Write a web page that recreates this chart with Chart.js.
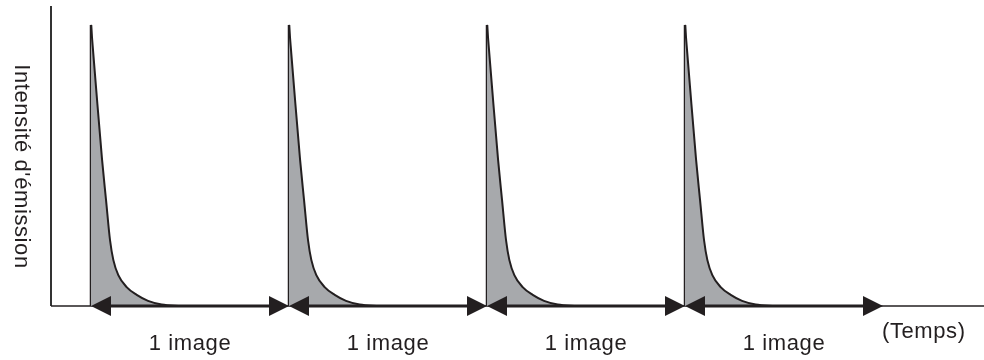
<!DOCTYPE html>
<html>
<head>
<meta charset="utf-8">
<script src="https://cdn.jsdelivr.net/npm/chart.js@4/dist/chart.umd.min.js"></script>
<style>
  html, body { margin: 0; padding: 0; background: #ffffff; }
  #wrap { width: 984px; height: 360px; position: relative; }
</style>
</head>
<body>
<div id="wrap"><canvas id="c"></canvas></div>
<script>
// Start of each frame on the time axis (1 unit = one image period)
const frameStarts = [0, 1, 2, 3];
const frameLabels = ['1 image', '1 image', '1 image', '1 image'];
const axisTitleY = "Intensité d'émission";
const axisTitleX = '(Temps)';

// Emission decay after each excitation pulse: time offset within a frame and intensity (0–100)
const pulseOffsets   = [0, 0.025, 0.056, 0.076, 0.096, 0.113, 0.138, 0.180, 0.231, 0.288, 0.357, 0.455];
const pulseIntensity = [93.7, 73.2, 48.7, 35.3, 22, 15.3, 10.3, 6.3, 3.7, 1.7, 0.5, 0];

const ink = '#231f20';
const shade = '#a7a9ac';

const pulseSets = frameStarts.map(s => ({
  data: pulseOffsets.map((t, i) => ({ x: s + t, y: pulseIntensity[i] })),
  borderColor: ink,
  borderWidth: 2,
  backgroundColor: shade,
  fill: 'origin',
  pointRadius: 0,
  cubicInterpolationMode: 'monotone',
  clip: false
}));

// Rising edge of each pulse
const edgeSet = {
  data: frameStarts.flatMap(s => [{ x: s, y: 0 }, { x: s, y: pulseIntensity[0] }, { x: s + 0.001, y: null }]),
  borderColor: ink,
  borderWidth: 2.5,
  fill: false,
  pointRadius: 0,
  tension: 0,
  spanGaps: false,
  clip: false
};

const diagram = {
  id: 'diagram',
  beforeDatasetsDraw(chart) {
    const { ctx, chartArea: a } = chart;
    ctx.save();
    // axes
    ctx.strokeStyle = '#333333';
    ctx.lineWidth = 2;
    ctx.beginPath();
    ctx.moveTo(a.left, a.top);
    ctx.lineTo(a.left, a.bottom);
    ctx.stroke();
    ctx.strokeStyle = ink;
    ctx.lineWidth = 1.5;
    ctx.beginPath();
    ctx.moveTo(a.left, a.bottom);
    ctx.lineTo(a.right, a.bottom);
    ctx.stroke();
    ctx.restore();
  },
  afterDatasetsDraw(chart) {
    const { ctx, chartArea: a, scales: { x } } = chart;
    const y0 = a.bottom;
    const head = 20, half = 10;
    ctx.save();
    ctx.fillStyle = ink;
    ctx.strokeStyle = ink;
    frameStarts.forEach(s => {
      const p0 = x.getPixelForValue(s);
      const p1 = x.getPixelForValue(s + 1);
      ctx.lineWidth = 3;
      ctx.beginPath();
      ctx.moveTo(p0 + head - 2, y0);
      ctx.lineTo(p1 - head + 2, y0);
      ctx.stroke();
      ctx.beginPath();
      ctx.moveTo(p0, y0);
      ctx.lineTo(p0 + head, y0 - half);
      ctx.lineTo(p0 + head, y0 + half);
      ctx.closePath();
      ctx.fill();
      ctx.beginPath();
      ctx.moveTo(p1, y0);
      ctx.lineTo(p1 - head, y0 - half);
      ctx.lineTo(p1 - head, y0 + half);
      ctx.closePath();
      ctx.fill();
    });

    // texts
    ctx.font = '22px "Liberation Sans", Arial, sans-serif';
    if ('letterSpacing' in ctx) ctx.letterSpacing = '0.6px';
    ctx.textAlign = 'center';
    ctx.textBaseline = 'alphabetic';
    frameStarts.forEach((s, i) => {
      ctx.fillText(frameLabels[i], x.getPixelForValue(s + 0.5), 350);
    });
    ctx.textAlign = 'left';
    ctx.fillText(axisTitleX, 882, 338);

    ctx.save();
    ctx.translate(21, 166.5);
    ctx.rotate(Math.PI / 2);
    ctx.textAlign = 'center';
    ctx.textBaseline = 'middle';
    ctx.fillText(axisTitleY, 0, 0);
    ctx.restore();
    ctx.restore();
  }
};

new Chart(document.getElementById('c'), {
  type: 'line',
  data: { datasets: [...pulseSets, edgeSet] },
  options: {
    responsive: true,
    maintainAspectRatio: false,
    animation: false,
    events: [],
    layout: { padding: { left: 51, right: 0, top: 6, bottom: 54 } },
    plugins: { legend: { display: false }, tooltip: { enabled: false } },
    scales: {
      x: { type: 'linear', min: -0.202, max: 4.51, display: false },
      y: { type: 'linear', min: 0, max: 100, display: false }
    }
  },
  plugins: [diagram]
});
</script>
</body>
</html>
